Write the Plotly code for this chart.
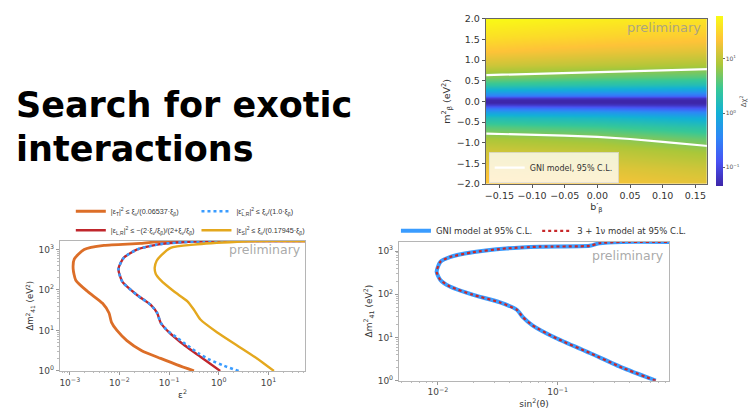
import numpy as np
import plotly.graph_objects as go

# ---------------- data ----------------
# Heatmap (top right): delta chi^2 over (b'_beta, m^2_beta)
b_cols = [-0.17, 0.0, 0.17]
m2_rows = [-2.0, -1.6, -1.2, -0.9, -0.6, -0.4, -0.25, -0.15, -0.08, -0.03, 0.0,
           0.03, 0.08, 0.15, 0.25, 0.4, 0.6, 0.9, 1.2, 1.6, 2.0]
dchi2_b_neg = [24.0, 17.5, 12.0, 7.8, 3.6, 1.63, 0.60, 0.22, 0.075, 0.047, 0.045,
               0.048, 0.085, 0.30, 0.85, 2.43, 5.4, 12.1, 21.5, 38.1, 59.6]
dchi2_b_zero = [20.0, 15.0, 9.8, 6.4, 2.89, 1.31, 0.50, 0.17, 0.065, 0.047, 0.045,
                0.047, 0.075, 0.24, 0.70, 1.95, 4.33, 9.64, 17.1, 30.5, 47.6]
dchi2_b_pos = [16.0, 11.5, 7.0, 4.1, 1.88, 0.86, 0.33, 0.12, 0.058, 0.046, 0.045,
               0.047, 0.07, 0.21, 0.58, 1.63, 3.6, 8.0, 14.3, 25.3, 39.6]
# 95% C.L. contour (GNI model)
cl_b = [-0.17, -0.10, -0.05, 0.0, 0.05, 0.10, 0.17]
cl_upper = [0.635, 0.66, 0.68, 0.70, 0.72, 0.75, 0.78]
cl_lower = [-0.78, -0.80, -0.83, -0.86, -0.91, -0.98, -1.08]

# Bottom left: exotic interaction limits (eps^2 vs dm41^2)
eT_x = [0.316, 0.145, 0.0676, 0.0282, 0.0141, 0.00891, 0.00692, 0.00617, 0.00457, 0.00229,
        0.00132, 0.00117, 0.00123, 0.00195, 0.0049, 0.0269, 0.0676, 1.0, 55]
eT_y = [1.0, 1.41, 2.04, 3.16, 5.62, 10, 15.8, 26.9, 46.8, 91.2,
        174, 331, 575, 1000, 1259, 1413, 1585, 1622, 1622]
eLR_x = [1.07, 0.427, 0.170, 0.1, 0.0676, 0.0575, 0.0427, 0.0229, 0.0115, 0.00955,
         0.0123, 0.0229, 0.0575, 0.145, 0.5, 1.58, 55]
eLR_y = [1.0, 2.24, 5.13, 8.91, 15.5, 26.9, 42.7, 74.1, 158, 331,
         631, 1000, 1318, 1479, 1585, 1622, 1622]
etLR_x = [2.51, 1.26, 0.676, 0.398, 0.240, 0.141, 0.0955, 0.0676, 0.0575, 0.0427, 0.0229,
          0.0115, 0.00955, 0.0123, 0.0229, 0.0575, 0.145, 0.5, 1.58, 55]
etLR_y = [1.0, 1.35, 1.86, 2.69, 4.17, 6.76, 9.55, 15.5, 26.9, 42.7, 74.1,
          158, 331, 631, 1000, 1318, 1479, 1585, 1622, 1622]
eS_x = [12.9, 5.89, 2.34, 0.933, 0.427, 0.316, 0.234, 0.126, 0.0676, 0.0537,
        0.0513, 0.0562, 0.0676, 0.107, 0.316, 2.34, 6.92, 55]
eS_y = [1.0, 2.04, 4.27, 8.91, 18.6, 32.4, 52.5, 91.2, 174, 251,
        355, 525, 692, 1096, 1318, 1549, 1622, 1622]
bl_names = ["|ε<sub>T</sub>|<sup>2</sup> ≤ ξ<sub>ν</sub>/(0.06537·ξ<sub>β</sub>)",
            "|ε<sub>L,R</sub>|<sup>2</sup> ≤ −(2·ξ<sub>ν</sub>/ξ<sub>β</sub>)/(2+ξ<sub>ν</sub>/ξ<sub>β</sub>)",
            "|ε̃<sub>L,R</sub>|<sup>2</sup> ≤ ξ<sub>ν</sub>/(1.0·ξ<sub>β</sub>)",
            "|ε<sub>S</sub>|<sup>2</sup> ≤ ξ<sub>ν</sub>/(0.17945·ξ<sub>β</sub>)"]

# Bottom right: sterile neutrino exclusion (sin^2 theta vs dm41^2)
st_x = [0.661, 0.347, 0.186, 0.0977, 0.0617, 0.0513, 0.0457, 0.0331, 0.0195, 0.0126,
        0.0105, 0.00977, 0.0105, 0.0126, 0.0195, 0.0372, 0.0708, 0.186, 0.224, 0.347, 0.857]
st_y = [1.0, 2.0, 4.37, 9.55, 19.1, 29.5, 43.7, 64.6, 97.7, 151,
        214, 331, 562, 724, 933, 1148, 1259, 1318, 1514, 1622, 1622]
br_names = ["GNI model at 95% C.L.", "3 + 1ν model at 95% C.L."]

# tick labels
dm_ticks = [1, 10, 100, 1000]
dm_labels = ["10<sup>0</sup>", "10<sup>1</sup>", "10<sup>2</sup>", "10<sup>3</sup>"]
eps_ticks = [1e-3, 1e-2, 1e-1, 1, 10]
eps_labels = ["10<sup>−3</sup>", "10<sup>−2</sup>", "10<sup>−1</sup>", "10<sup>0</sup>", "10<sup>1</sup>"]
sin_ticks = [1e-2, 1e-1]
sin_labels = ["10<sup>−2</sup>", "10<sup>−1</sup>"]
cb_ticks = [-1, 0, 1]
cb_labels = ["10<sup>−1</sup>", "10<sup>0</sup>", "10<sup>1</sup>"]

W, H = 748, 410
def px(x): return x / W
def py(y): return 1 - y / H

parula = [[0.0, "rgb(62,38,168)"], [1/7, "rgb(72,82,244)"], [2/7, "rgb(46,135,247)"],
          [3/7, "rgb(18,177,214)"], [4/7, "rgb(55,200,151)"], [5/7, "rgb(171,199,57)"],
          [6/7, "rgb(254,195,56)"], [1.0, "rgb(249,251,21)"]]

z = np.log10(np.array([dchi2_b_neg, dchi2_b_zero, dchi2_b_pos]).T)

fig = go.Figure()
fig.add_trace(go.Heatmap(
    x=b_cols, y=m2_rows, z=z, zsmooth="best", colorscale=parula, zmin=-1.35, zmax=1.78,
    xaxis="x", yaxis="y", showlegend=False, hoverinfo="skip",
    colorbar=dict(x=px(717), xanchor="left", y=py(98), yanchor="middle", xpad=0, ypad=0,
                  lenmode="pixels", len=170, thickness=7, outlinewidth=0,
                  tickvals=cb_ticks, ticktext=cb_labels,
                  ticks="outside", ticklen=2, tickcolor="#666",
                  tickfont=dict(size=6, color="#555", family="DejaVu Sans"),
                  title=dict(text="Δχ<sup>2</sup>", side="right", font=dict(size=7, color="#555")))))
fig.add_trace(go.Scatter(x=cl_b, y=cl_upper, mode="lines", line=dict(color="white", width=2.2),
                         name="GNI model, 95% C.L.", legend="legend", xaxis="x", yaxis="y"))
fig.add_trace(go.Scatter(x=cl_b, y=cl_lower, mode="lines", line=dict(color="white", width=2.2),
                         showlegend=False, xaxis="x", yaxis="y"))

# bottom-left curves (two legend columns, like matplotlib ncol=2)
bl_series = [(eT_x, eT_y, "#DC6E28", "solid", 2.8, "legend2"),
             (eLR_x, eLR_y, "#C0262C", "solid", 2.4, "legend2"),
             (etLR_x, etLR_y, "#3A9CFF", "dot", 2.6, "legend4"),
             (eS_x, eS_y, "#E4A81E", "solid", 2.4, "legend4")]
for i, ((xs, ys, col, dash, w, leg), name) in enumerate(zip(bl_series, bl_names)):
    fig.add_trace(go.Scatter(x=xs, y=ys, mode="lines", name=name, legend=leg,
                             line=dict(color=col, dash=dash, width=w, shape="spline", smoothing=0.6),
                             xaxis="x2", yaxis="y2"))

# bottom-right curves
fig.add_trace(go.Scatter(x=st_x, y=st_y, mode="lines", name=br_names[0], legend="legend3",
                         line=dict(color="#3A9CFF", width=4, shape="spline", smoothing=0.6),
                         xaxis="x3", yaxis="y3"))
fig.add_trace(go.Scatter(x=st_x, y=st_y, mode="lines", name=br_names[1], legend="legend3",
                         line=dict(color="#C8282A", width=2.2, dash="dot", shape="spline", smoothing=0.6),
                         xaxis="x3", yaxis="y3"))

tickf = dict(family="DejaVu Sans", size=9, color="#444")
log_common = dict(type="log", tickmode="array", showgrid=False, zeroline=False,
                  showline=True, linecolor="#b5b5b5", linewidth=1, mirror=True,
                  ticks="outside", ticklen=3, tickcolor="#999", tickfont=tickf,
                  minor=dict(ticks="outside", ticklen=1.5, tickcolor="#bbb", showgrid=False, dtick="D1"))
lin_common = dict(showgrid=False, zeroline=False, showline=True, linecolor="#666", linewidth=0.8,
                  mirror=True, ticks="outside", ticklen=3, tickcolor="#555",
                  tickfont=dict(family="DejaVu Sans", size=9.5, color="#333"))

leg_small = dict(bgcolor="rgba(0,0,0,0)", font=dict(family="Liberation Sans", size=7.2, color="#333"),
                 itemwidth=30, tracegroupgap=0, xanchor="left", yanchor="top")

fig.update_layout(
    width=W, height=H, margin=dict(l=0, r=0, t=0, b=0),
    paper_bgcolor="white", plot_bgcolor="white",
    font=dict(family="DejaVu Sans", color="#333"),
    xaxis=dict(domain=[px(486), px(708)], anchor="y", range=[-0.171, 0.168],
               tickvals=[-0.15, -0.10, -0.05, 0.0, 0.05, 0.10, 0.15], tickformat=".2f",
               title=dict(text="b′<sub>β</sub>", font=dict(size=9.5), standoff=2), **lin_common),
    yaxis=dict(domain=[py(183), py(13)], anchor="x", range=[-2.0, 2.0], dtick=0.5, tickformat=".1f",
               title=dict(text="m<sup>2</sup><sub>β</sub> (eV<sup>2</sup>)", font=dict(size=9.5), standoff=4),
               **lin_common),
    xaxis2=dict(domain=[px(59), px(305)], anchor="y2", range=[-3.2, 1.74],
                tickvals=eps_ticks, ticktext=eps_labels,
                title=dict(text="ε<sup>2</sup>", font=dict(size=9), standoff=2), **log_common),
    yaxis2=dict(domain=[py(375), py(241)], anchor="x2", range=[0, 3.22],
                tickvals=dm_ticks, ticktext=dm_labels,
                title=dict(text="Δm<sup>2</sup><sub>41</sub> (eV<sup>2</sup>)", font=dict(size=8.5), standoff=3),
                **log_common),
    xaxis3=dict(domain=[px(399), px(670)], anchor="y3", range=[-2.325, -0.067],
                tickvals=sin_ticks, ticktext=sin_labels,
                title=dict(text="sin<sup>2</sup>(θ)", font=dict(size=9), standoff=2), **log_common),
    yaxis3=dict(domain=[py(385), py(242)], anchor="x3", range=[0, 3.22],
                tickvals=dm_ticks, ticktext=dm_labels,
                title=dict(text="Δm<sup>2</sup><sub>41</sub> (eV<sup>2</sup>)", font=dict(size=9), standoff=3),
                **log_common),
    legend=dict(x=px(489), y=py(182), xanchor="left", yanchor="bottom",
                bgcolor="rgba(255,255,255,0.78)", bordercolor="rgba(220,220,220,0.8)", borderwidth=1,
                font=dict(size=8, color="#333"), itemwidth=30, tracegroupgap=0),
    legend2=dict(x=px(70), y=py(196), **leg_small),
    legend4=dict(x=px(196), y=py(196), **leg_small),
    legend3=dict(x=px(396), y=py(231), xanchor="left", yanchor="middle", orientation="h",
                 bgcolor="rgba(0,0,0,0)", font=dict(size=8.5, color="#333"), itemwidth=30),
    annotations=[
        dict(text="Search for exotic", x=px(13), y=py(102), xref="paper", yref="paper",
             xanchor="left", yanchor="middle", showarrow=False,
             font=dict(family="DejaVu Sans", size=35, color="black", weight="bold")),
        dict(text="interactions", x=px(13), y=py(147), xref="paper", yref="paper",
             xanchor="left", yanchor="middle", showarrow=False,
             font=dict(family="DejaVu Sans", size=35, color="black", weight="bold")),
        dict(text="preliminary", x=px(704), y=py(22), xref="paper", yref="paper",
             xanchor="right", yanchor="middle", showarrow=False,
             font=dict(size=13, color="rgba(150,150,150,0.8)")),
        dict(text="preliminary", x=px(303), y=py(250), xref="paper", yref="paper",
             xanchor="right", yanchor="middle", showarrow=False,
             font=dict(size=12.5, color="rgba(160,160,160,0.9)")),
        dict(text="preliminary", x=px(667), y=py(256), xref="paper", yref="paper",
             xanchor="right", yanchor="middle", showarrow=False,
             font=dict(size=12.5, color="rgba(160,160,160,0.9)")),
    ],
)

fig.write_html("out.html")
